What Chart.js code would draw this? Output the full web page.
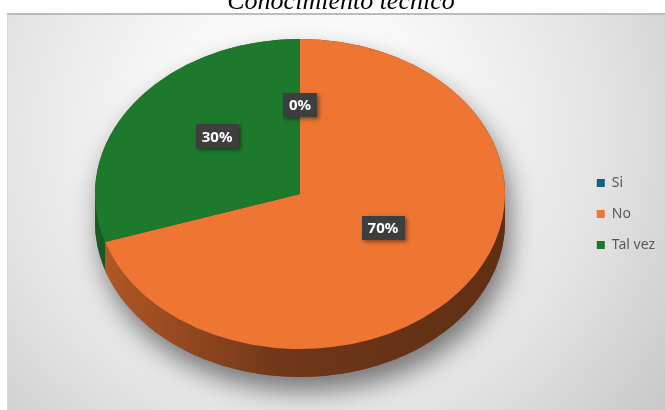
<!DOCTYPE html>
<html>
<head>
<meta charset="utf-8">
<script src="https://cdn.jsdelivr.net/npm/chart.js@4.4.1/dist/chart.umd.min.js"></script>
<style>
  html, body { margin: 0; padding: 0; background: #fff; }
  #wrap { width: 665px; height: 410px; }
</style>
</head>
<body>
<div id="wrap"><canvas id="pie" width="665" height="410"></canvas></div>
<script>
// ── DATA ──
const categories = ['Si', 'No', 'Tal vez'];
const shares = [0, 70, 30];   // percent of answers
const chartTitle = 'Conocimiento técnico';

// ── STYLE ──
const sliceColors = ['#156082', '#ee7532', '#1d7a2d'];
const PIE = { x: 300, y: 194, r: 205, squash: 155 / 205, depth: 28 };
const PANEL = { x: 7, y: 14 };

function shade(hex, f) {
    const n = parseInt(hex.slice(1), 16);
    const r = Math.round(((n >> 16) & 255) * f);
    const g = Math.round(((n >> 8) & 255) * f);
    const b = Math.round((n & 255) * f);
    return `rgb(${r},${g},${b})`;
}

// grey panel behind the chart + title above it
const panelBg = {
    id: 'panelBg',
    beforeDraw(chart) {
        const { ctx, width, height } = chart;
        ctx.save();
        ctx.fillStyle = '#fff';
        ctx.fillRect(0, 0, width, height);
        const g = ctx.createRadialGradient(300, 130, 0, 300, 130, 470);
        g.addColorStop(0, '#ffffff');
        g.addColorStop(0.3, '#f8f8f8');
        g.addColorStop(0.65, '#e3e3e3');
        g.addColorStop(1, '#c6c6c6');
        ctx.fillStyle = g;
        ctx.fillRect(PANEL.x, PANEL.y, width - PANEL.x, height - PANEL.y);
        ctx.fillStyle = '#bcbcbc';
        ctx.fillRect(PANEL.x, PANEL.y - 1, width - PANEL.x, 2);
        ctx.fillStyle = '#d6d6d6';
        ctx.fillRect(PANEL.x, PANEL.y, 1, height - PANEL.y);

        ctx.fillStyle = '#000';
        ctx.font = 'italic 26px "Liberation Serif"';
        ctx.textAlign = 'center';
        ctx.textBaseline = 'alphabetic';
        ctx.fillText(chartTitle, 341, 9);
        ctx.restore();
    }
};

// tilts the pie into an ellipse and adds the side wall + shadow
const pie3d = {
    id: 'pie3d',
    beforeDatasetsDraw(chart) {
        const ctx = chart.ctx;
        const arcs = chart.getDatasetMeta(0).data;
        const { x, y, squash, depth } = PIE;
        const r = arcs[0].outerRadius;
        const ry = r * squash;

        // soft shadow under the whole disc
        ctx.save();
        ctx.shadowColor = 'rgba(0,0,0,0.5)';
        ctx.shadowBlur = 26;
        ctx.shadowOffsetX = 5;
        ctx.shadowOffsetY = 14;
        ctx.fillStyle = '#6a3a20';
        ctx.beginPath();
        ctx.ellipse(x, y, r, ry, 0, Math.PI, 2 * Math.PI);
        ctx.ellipse(x, y + depth, r, ry, 0, 0, Math.PI);
        ctx.closePath();
        ctx.fill();
        ctx.restore();

        // front half of the rim, one piece per slice
        arcs.forEach((arc, i) => {
            [0, 2 * Math.PI, -2 * Math.PI].forEach(off => {
                const a0 = Math.max(arc.startAngle - off, 0);
                const a1 = Math.min(arc.endAngle - off, Math.PI);
                if (a1 - a0 < 1e-4) return;
                const col = sliceColors[i];
                const g = ctx.createLinearGradient(x - r, 0, x + r, 0);
                g.addColorStop(0, shade(col, 0.76));
                g.addColorStop(0.45, shade(col, 0.47));
                g.addColorStop(1, shade(col, 0.4));
                ctx.fillStyle = g;
                ctx.beginPath();
                ctx.ellipse(x, y, r, ry, 0, a0, a1);
                ctx.ellipse(x, y + depth, r, ry, 0, a1, a0, true);
                ctx.closePath();
                ctx.fill();
            });
        });

        // squash the library's round pie onto the top face
        const c = arcs[0];
        ctx.save();
        ctx.translate(x, y);
        ctx.scale(1, squash);
        ctx.translate(-c.x, -c.y);
    },
    afterDatasetsDraw(chart) {
        const ctx = chart.ctx;
        ctx.restore();

        // value tags, half way out along each slice, nudged up a little
        const { x, y, squash } = PIE;
        const arcs = chart.getDatasetMeta(0).data;
        ctx.save();
        ctx.font = 'bold 15px "Noto Sans"';
        ctx.textAlign = 'center';
        ctx.textBaseline = 'middle';
        arcs.forEach((arc, i) => {
            const mid = (arc.startAngle + arc.endAngle) / 2;
            const d = arc.outerRadius * 0.5;
            const px = x + Math.cos(mid) * d;
            const py = y + Math.sin(mid) * d * squash - 12;
            const txt = shares[i] + '%';
            const w = ctx.measureText(txt).width + 12;
            const h = 24;
            ctx.save();
            ctx.shadowColor = 'rgba(0,0,0,0.45)';
            ctx.shadowBlur = 4;
            ctx.shadowOffsetX = 2;
            ctx.shadowOffsetY = 2;
            ctx.fillStyle = '#3e3e3e';
            ctx.fillRect(Math.round(px - w / 2), Math.round(py - h / 2), Math.round(w), h);
            ctx.restore();
            ctx.fillStyle = '#ffffff';
            ctx.fillText(txt, px, py + 1);
        });
        ctx.restore();
    }
};

new Chart(document.getElementById('pie'), {
    type: 'pie',
    data: {
        labels: categories,
        datasets: [{
            data: shares,
            backgroundColor: sliceColors,
            borderWidth: 0,
            clip: false,
        }]
    },
    options: {
        responsive: false,
        animation: false,
        radius: PIE.r,
        layout: { padding: { top: 18 } },
        plugins: {
            tooltip: { enabled: false },
            legend: {
                position: 'right',
                labels: {
                    boxWidth: 8,
                    boxHeight: 8,
                    padding: 17,
                    color: '#595959',
                    font: { family: 'Noto Sans', size: 14 }
                }
            }
        }
    },
    plugins: [panelBg, pie3d]
});
</script>
</body>
</html>
